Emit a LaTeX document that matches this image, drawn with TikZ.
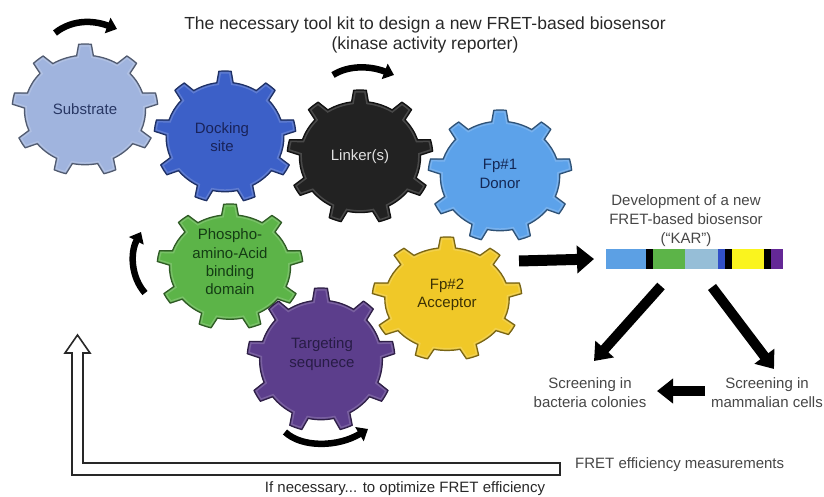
\documentclass[tikz,border=0pt]{standalone}
\usepackage{fontspec}
\setmainfont{Liberation Sans}
\usetikzlibrary{arrows.meta}

% gear fill colours
\definecolor{cSub}{RGB}{160,180,222}
\definecolor{cDock}{RGB}{60,96,200}
\definecolor{cLink}{RGB}{34,34,34}
\definecolor{cDonor}{RGB}{92,162,234}
\definecolor{cPhos}{RGB}{92,180,72}
\definecolor{cTarg}{RGB}{92,62,140}
\definecolor{cAcc}{RGB}{240,200,40}
% sensor bar colours
\definecolor{kBlue}{RGB}{92,160,228}
\definecolor{kGreen}{RGB}{92,180,72}
\definecolor{kSteel}{RGB}{150,190,215}
\definecolor{kRoyal}{RGB}{50,80,200}
\definecolor{kYellow}{RGB}{250,244,30}
\definecolor{kPurple}{RGB}{100,40,150}
% text colours
\definecolor{txtDark}{RGB}{40,40,40}
\definecolor{txtGrey}{RGB}{70,70,70}

% outline of a nine-tooth cog of unit radius
\newcommand{\cogpath}{%
  (250:0.83)
  \foreach \k in {0,...,8}{
    arc[start angle={250+40*\k}, end angle={262+40*\k}, radius=0.83]
    -- ({265+40*\k}:1)
    arc[start angle={265+40*\k}, end angle={275+40*\k}, radius=1]
    -- ({278+40*\k}:0.83)
    arc[start angle={278+40*\k}, end angle={290+40*\k}, radius=0.83]
  } -- cycle}

% cog centred at (#1,#2), fill #3, radii #4 / #5, with a soft bevelled rim
\newcommand{\cog}[5]{%
  \begin{scope}[shift={(#1,#2)}, xscale=#4, yscale=#5]
    \fill[#3] \cogpath;
    \begin{scope}
      \clip \cogpath;
      \draw[#3!60!white, line width=5pt, opacity=0.45] \cogpath;
      \draw[#3!70!black, line width=2pt, opacity=0.5] \cogpath;
    \end{scope}
    \draw[#3!50!black, line width=1.2pt, line join=round] \cogpath;
  \end{scope}}

\tikzset{
  geartxt/.style={align=center, inner sep=0pt,
    font=\fontsize{15}{18.3}\selectfont},
  plaintxt/.style={align=center, inner sep=0pt, text=txtGrey,
    font=\fontsize{15}{19}\selectfont},
  rotarrow/.style={line width=6.5pt, draw=black,
    -{Triangle[length=10pt, width=16pt]}},
  bigarrow/.style={line width=11pt, draw=black,
    -{Triangle[length=17pt, width=27pt]}},
  midarrow/.style={line width=10pt, draw=black,
    -{Triangle[length=16pt, width=24pt]}},
}

\begin{document}
\begin{tikzpicture}[x=1pt, y=-1pt]
\useasboundingbox (0,0) rectangle (824,497);

% title
\node[inner sep=0pt, align=center, text=txtDark,
      font=\fontsize{17.5}{20}\selectfont] (title) at (425,35)
  {The necessary tool kit to design a new FRET-based biosensor\\(kinase activity reporter)};

% cogs
\cog{85}{110}{cSub}{73}{66}
\cog{225}{137}{cDock}{71}{66}
\cog{360}{157}{cLink}{73}{67}
\cog{500}{176}{cDonor}{72}{66}
\cog{230}{267}{cPhos}{73}{63}
\cog{447}{299}{cAcc}{75}{62}
\cog{321}{360}{cTarg}{74}{72}

% cog labels
\node[geartxt, text={rgb,255:red,40;green,55;blue,100}] (sub) at (85,109) {Substrate};
\node[geartxt, text={rgb,255:red,25;green,35;blue,90}] (dock) at (222,137) {Docking\\site};
\node[geartxt, text={rgb,255:red,225;green,225;blue,225}] (link) at (360,157) {Linker(s)};
\node[geartxt, text={rgb,255:red,20;green,40;blue,85}] (donor) at (500,174) {Fp\#1\\Donor};
\node[geartxt, text={rgb,255:red,20;green,60;blue,20}] (phos) at (230,262) {Phospho-\\amino-Acid\\binding\\domain};
\node[geartxt, text={rgb,255:red,60;green,50;blue,5}] (acc) at (447,295) {Fp\#2\\Acceptor};
\node[geartxt, text={rgb,255:red,40;green,28;blue,70}] (targ) at (322,354) {Targeting\\sequnece};

% rotation arrows around the cogs
\draw[rotarrow] (55,33) .. controls (70,21) and (90,19) .. (117,29);
\draw[rotarrow] (333,75) .. controls (347,66) and (368,65) .. (394,75);
\draw[rotarrow] (145,293) .. controls (131,277) and (130,253) .. (141,232);
\draw[rotarrow] (285,432) .. controls (302,448) and (338,447) .. (368,429);

% new biosensor construct
\node[plaintxt] (dev) at (686,221) {Development of a new\\FRET-based biosensor\\(``KAR'')};
\fill[kBlue]   (606,249) rectangle (646,269);
\fill[black]   (646,249) rectangle (653,269);
\fill[kGreen]  (653,249) rectangle (685,269);
\fill[kSteel]  (685,249) rectangle (718,269);
\fill[kRoyal]  (718,249) rectangle (725,269);
\fill[black]   (725,249) rectangle (732,269);
\fill[kYellow] (732,249) rectangle (764,269);
\fill[black]   (764,249) rectangle (771,269);
\fill[kPurple] (771,249) rectangle (783,269);
\node[inner sep=0pt, minimum width=177pt, minimum height=20pt] (kar) at (694.5,259) {};

% screening steps
\node[plaintxt] (bact) at (590,393) {Screening in\\bacteria colonies};
\node[plaintxt] (mamm) at (767,393) {Screening in\\mammalian cells};
\node[plaintxt, anchor=west] (fret) at (575,465) {FRET efficiency measurements};
\node[plaintxt, text=txtDark] (opt) at (405,489) {If necessary... to optimize FRET efficiency};

% arrows between the steps
\coordinate (accOut) at (519,261);
\draw[bigarrow] (accOut) -- (kar.west -| 594,0);
\coordinate (karL) at (661,286);
\coordinate (karR) at (712,287);
\coordinate (bactIn) at (594,361);
\coordinate (mammIn) at (774,369);
\draw[midarrow] (karL) -- (bactIn);
\draw[midarrow] (karR) -- (mammIn);
\draw[midarrow, shorten <=6pt] (mamm.west |- 0,391) -- (657,391);

% hollow feedback arrow back to the tool kit
\draw[line width=1.6pt, draw=txtDark, fill=white, line join=miter]
  (560,463) -- (83,463) -- (83,353) -- (90,353) -- (77.5,335)
  -- (65,353) -- (72,353) -- (72,475) -- (560,475) -- cycle;
\end{tikzpicture}
\end{document}
